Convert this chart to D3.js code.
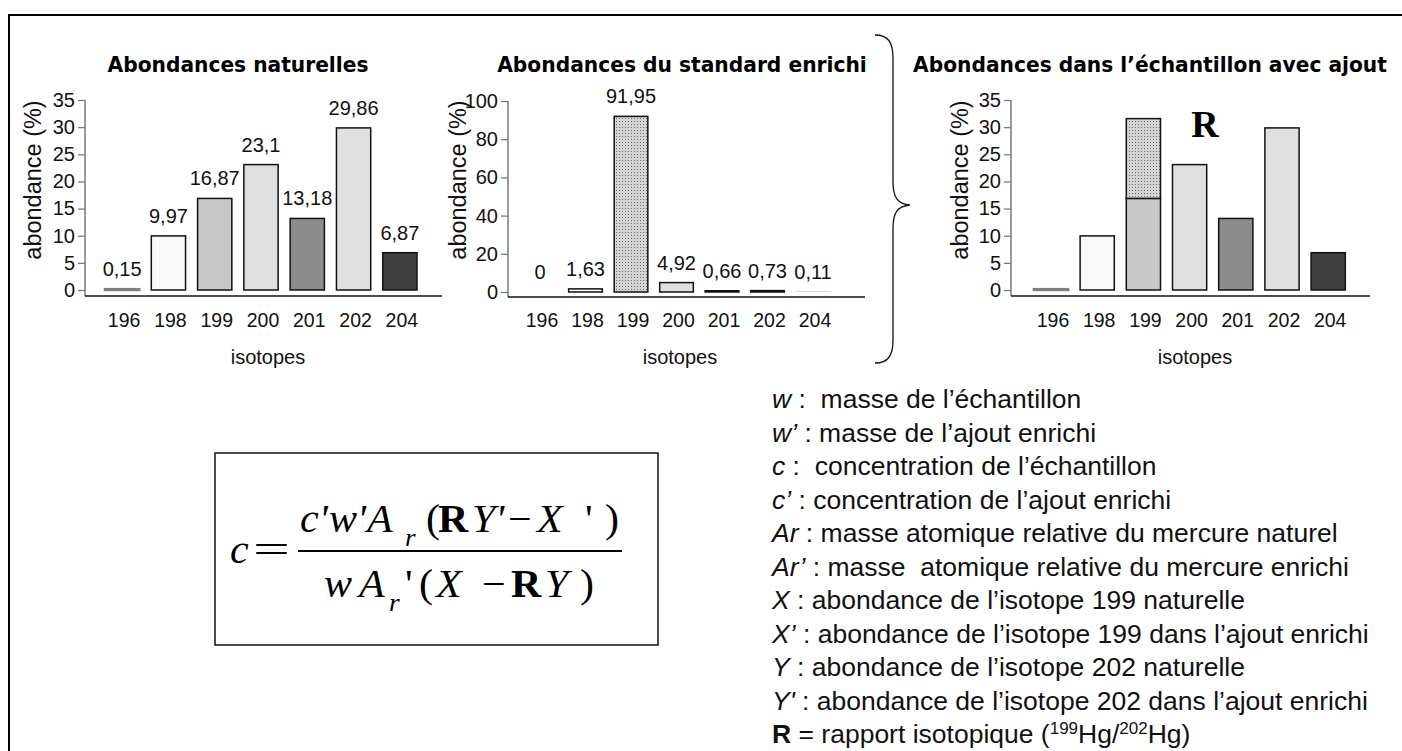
<!DOCTYPE html>
<html>
<head>
<meta charset="utf-8">
<script src="https://cdn.jsdelivr.net/npm/d3@7"></script>
<style>
  body { margin: 0; background: #fff; }
  svg text { white-space: pre; }
</style>
</head>
<body>
<div id="chart"></div>
<script>
// isotopes of mercury and their abundances (%)
var isotopes = ["196", "198", "199", "200", "201", "202", "204"];
var naturelles = [0.15, 9.97, 16.87, 23.1, 13.18, 29.86, 6.87];
var enrichi = [0, 1.63, 91.95, 4.92, 0.66, 0.73, 0.11];
// part of isotope 199 added by the spike (third chart, stacked on top)
var ajout199 = [0, 0, 14.7, 0, 0, 0, 0];

var ticks35 = [0, 5, 10, 15, 20, 25, 30, 35];
var ticks100 = [0, 20, 40, 60, 80, 100];

var titres = ["Abondances naturelles", "Abondances du standard enrichi", "Abondances dans l\u2019\u00e9chantillon avec ajout"];

var legendeSymboles = ["w", "w\u2019", "c", "c\u2019", "Ar", "Ar\u2019", "X", "X\u2019", "Y", "Y'"];
var legendeTextes = [
    " :  masse de l\u2019\u00e9chantillon",
    " : masse de l\u2019ajout enrichi",
    " :  concentration de l\u2019\u00e9chantillon",
    " : concentration de l\u2019ajout enrichi",
    " : masse atomique relative du mercure naturel",
    " : masse  atomique relative du mercure enrichi",
    " : abondance de l\u2019isotope 199 naturelle",
    " : abondance de l\u2019isotope 199 dans l\u2019ajout enrichi",
    " : abondance de l\u2019isotope 202 naturelle",
    " : abondance de l\u2019isotope 202 dans l\u2019ajout enrichi"
];

// fill for each isotope
var couleurs = ["#808080", "#f8f8f8", "#c8c8c8", "#e0e0e0", "#8c8c8c", "#e0e0e0", "#404040"];

var svgWidth = 1402;
var svgHeight = 751;

var svg = d3.select("#chart").append("svg")
    .attr("width", svgWidth)
    .attr("height", svgHeight);

// dotted fill used for the enriched 199
var defs = svg.append("defs");
var pat = defs.append("pattern")
    .attr("id", "points")
    .attr("width", 3)
    .attr("height", 3)
    .attr("patternUnits", "userSpaceOnUse");
pat.append("rect").attr("width", 3).attr("height", 3).attr("fill", "#d4d4d4");
pat.append("rect").attr("x", 1).attr("y", 1).attr("width", 1).attr("height", 1).attr("fill", "#6a6a6a");

// outer frame (left and top only)
svg.append("path")
    .attr("d", "M9,751 L9,15 L1402,15")
    .attr("fill", "none")
    .attr("stroke", "black")
    .attr("stroke-width", 2);

var fmt = function (v) { return String(v).replace(".", ","); };

function drawChart(cfg) {
    var g = svg.append("g");

    var xScale = d3.scaleBand()
        .domain(isotopes)
        .range(cfg.band)
        .paddingInner(0.26)
        .paddingOuter(0.13);

    var yScale = d3.scaleLinear()
        .domain([0, cfg.max])
        .range(cfg.yRange);

    // title, squeezed horizontally to the width of the original bold font
    var title = g.append("text")
        .attr("text-anchor", "middle")
        .attr("font-family", "DejaVu Sans")
        .attr("font-weight", "bold")
        .attr("font-size", 22)
        .text(cfg.title);
    var natural = title.node().getComputedTextLength();
    title.attr("transform", `translate(${cfg.titleX}, 72) scale(${cfg.titleW / natural}, 1)`);

    // y axis
    var yAxis = d3.axisLeft(yScale)
        .tickValues(cfg.ticks)
        .tickSize(7)
        .tickPadding(3);
    var yg = g.append("g")
        .attr("transform", `translate(${cfg.axisX}, 0)`)
        .call(yAxis);
    yg.select(".domain").remove();
    yg.selectAll(".tick line").attr("stroke", "#7a7a7a").attr("stroke-width", 1.3);
    yg.selectAll(".tick text")
        .attr("font-family", "Liberation Sans, Arial, sans-serif")
        .attr("font-size", 20)
        .attr("fill", "#111");
    g.append("line")
        .attr("x1", cfg.axisX).attr("x2", cfg.axisX)
        .attr("y1", yScale(cfg.max)).attr("y2", cfg.xAxisY)
        .attr("stroke", "#7a7a7a")
        .attr("stroke-width", 1.5);

    // x axis line
    g.append("line")
        .attr("x1", cfg.axisX).attr("x2", cfg.xEnd)
        .attr("y1", cfg.xAxisY).attr("y2", cfg.xAxisY)
        .attr("stroke", "#111")
        .attr("stroke-width", 1.5);

    // isotope labels
    g.selectAll("text.iso")
        .data(isotopes)
        .enter()
        .append("text")
        .classed("iso", true)
        .attr("x", d => xScale(d) + xScale.bandwidth() / 2 + 2)
        .attr("y", 327)
        .attr("text-anchor", "middle")
        .attr("font-family", "Liberation Sans, Arial, sans-serif")
        .attr("font-size", 19.5)
        .attr("fill", "#111")
        .text(d => d);

    g.append("text")
        .attr("x", cfg.isoX)
        .attr("y", 364)
        .attr("text-anchor", "middle")
        .attr("font-family", "Liberation Sans, Arial, sans-serif")
        .attr("font-size", 20)
        .attr("fill", "#111")
        .text("isotopes");

    g.append("text")
        .attr("transform", `translate(${cfg.yTitleX}, 180) rotate(-90)`)
        .attr("text-anchor", "middle")
        .attr("font-family", "Liberation Sans, Arial, sans-serif")
        .attr("font-size", 23.5)
        .attr("fill", "#111")
        .text("abondance (%)");

    // bars
    var rows = isotopes.map((iso, i) => ({ iso: iso, v: cfg.values[i], extra: cfg.extra ? cfg.extra[i] : 0, i: i }));

    g.selectAll("rect.bar")
        .data(rows)
        .enter()
        .append("rect")
        .classed("bar", true)
        .attr("x", d => xScale(d.iso))
        .attr("y", d => yScale(d.v))
        .attr("width", xScale.bandwidth())
        .attr("height", d => yScale(0) - yScale(d.v))
        .attr("fill", d => (cfg.dotted && d.iso === "199") ? "url(#points)" : couleurs[d.i])
        .attr("stroke", d => {
            if (yScale(0) - yScale(d.v) < 0.5) return "none";
            return d.iso === "196" ? "#808080" : "#111";
        })
        .attr("stroke-width", d => d.iso === "196" ? 2.5 : 1.5);

    if (cfg.extra) {
        g.selectAll("rect.extra")
            .data(rows.filter(d => d.extra > 0))
            .enter()
            .append("rect")
            .classed("extra", true)
            .attr("x", d => xScale(d.iso))
            .attr("y", d => yScale(d.v + d.extra))
            .attr("width", xScale.bandwidth())
            .attr("height", d => yScale(d.v) - yScale(d.v + d.extra))
            .attr("fill", "url(#points)")
            .attr("stroke", "#111")
            .attr("stroke-width", 1.5);
    }

    if (cfg.labels) {
        g.selectAll("text.val")
            .data(rows)
            .enter()
            .append("text")
            .classed("val", true)
            .attr("x", d => xScale(d.iso) + xScale.bandwidth() / 2)
            .attr("y", d => yScale(d.v) - 13)
            .attr("text-anchor", "middle")
            .attr("font-family", "Liberation Sans, Arial, sans-serif")
            .attr("font-size", 20)
            .attr("fill", "#111")
            .text(d => fmt(d.v));
    }
}

drawChart({
    title: titres[0], titleX: 238, titleW: 261,
    values: naturelles, max: 35, ticks: ticks35,
    axisX: 85, yRange: [290, 100], xAxisY: 296, xEnd: 442,
    band: [99, 423], yTitleX: 41, isoX: 268, labels: true
});

drawChart({
    title: titres[1], titleX: 682, titleW: 370,
    values: enrichi, max: 100, ticks: ticks100, dotted: true,
    axisX: 508, yRange: [292, 101], xAxisY: 297, xEnd: 865,
    band: [517.25, 835.75], yTitleX: 466, isoX: 680, labels: true
});

drawChart({
    title: titres[2], titleX: 1150, titleW: 474,
    values: naturelles, extra: ajout199, max: 35, ticks: ticks35,
    axisX: 1011, yRange: [290, 100], xAxisY: 296, xEnd: 1370,
    band: [1027.9, 1351.3], yTitleX: 968, isoX: 1195, labels: false
});

// big R in the third chart
svg.append("text")
    .attr("x", 1205)
    .attr("y", 137)
    .attr("text-anchor", "middle")
    .attr("font-family", "Liberation Serif, Times New Roman, serif")
    .attr("font-weight", "bold")
    .attr("font-size", 38)
    .text("R");

// curly brace between chart 2 and chart 3
svg.append("path")
    .attr("d", "M875,35 C888,35 893,42 893,58 L893,182 C893,198 898,204 910,205 C898,206 893,212 893,228 L893,340 C893,356 888,363 875,363")
    .attr("fill", "none")
    .attr("stroke", "#111")
    .attr("stroke-width", 1.3);

// formula box
var fg = svg.append("g")
    .attr("font-family", "Liberation Serif, Times New Roman, serif")
    .attr("font-size", 40)
    .attr("fill", "#000");

fg.append("rect")
    .attr("x", 215).attr("y", 453)
    .attr("width", 443).attr("height", 192)
    .attr("fill", "none")
    .attr("stroke", "#111")
    .attr("stroke-width", 1.5);

// one piece of the equation, a little wider than the serif font
function piece(txt, x, y, style) {
    var t = fg.append("text")
        .attr("transform", `translate(${x}, ${y}) scale(1.05, 1)`)
        .text(txt);
    if (style === "i") t.attr("font-style", "italic");
    if (style === "b") t.attr("font-weight", "bold");
    if (style === "sub") t.attr("font-style", "italic").attr("font-size", 26);
    return t;
}

piece("c", 230, 563, "i");
fg.append("text").attr("x", 253).attr("y", 563)
    .attr("textLength", 37).attr("lengthAdjust", "spacingAndGlyphs").text("=");
fg.append("line")
    .attr("x1", 298).attr("x2", 622)
    .attr("y1", 551).attr("y2", 551)
    .attr("stroke", "#000").attr("stroke-width", 1.8);

// numerator
piece("c'", 300, 532, "i");
piece("w'", 329, 532, "i");
piece("A", 367, 532, "i");
piece("r", 405, 546, "sub");
piece("(", 426, 532);
piece("R", 438, 532, "b");
piece("Y'", 472, 532, "i");
piece("\u2212", 508, 532);
piece("X", 537, 532, "i");
piece("'", 585, 532);
piece(")", 605, 532);

// denominator
piece("w", 324, 597, "i");
piece("A", 359, 597, "i");
piece("r", 389, 611, "sub");
piece("'", 405, 597);
piece("(", 419, 597);
piece("X", 436, 597, "i");
piece("\u2212", 482, 597);
piece("R", 511, 597, "b");
piece("Y", 545, 597, "i");
piece(")", 580, 597);

// legend of the symbols
var lg = svg.append("g")
    .attr("font-family", "Liberation Sans, Arial, sans-serif")
    .attr("font-size", 26.5)
    .attr("fill", "#111");

legendeSymboles.forEach(function (s, i) {
    var t = lg.append("text")
        .attr("x", 772)
        .attr("y", 408 + i * 33.5);
    t.append("tspan").attr("font-style", "italic").text(s);
    t.append("tspan").text(legendeTextes[i]);
});

var tr = lg.append("text").attr("x", 772).attr("y", 408 + 10 * 33.5);
tr.append("tspan").attr("font-weight", "bold").text("R");
tr.append("tspan").text(" = rapport isotopique (");
tr.append("tspan").attr("font-size", 17).attr("dy", -9).text("199");
tr.append("tspan").attr("dy", 9).text("Hg/");
tr.append("tspan").attr("font-size", 17).attr("dy", -9).text("202");
tr.append("tspan").attr("dy", 9).text("Hg)");
</script>
</body>
</html>
